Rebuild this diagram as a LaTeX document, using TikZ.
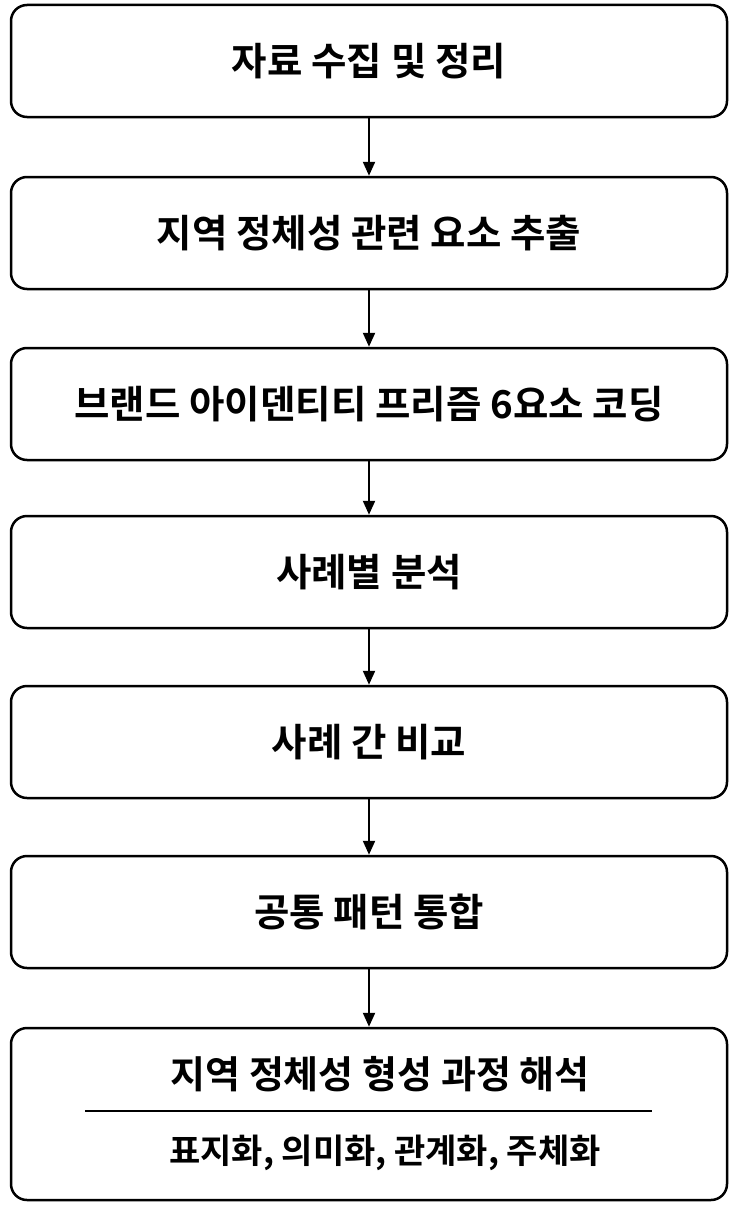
\documentclass[tikz,border=0pt]{standalone}
\usepackage{fontspec}
\setmainfont{Noto Sans CJK KR}[BoldFont={Noto Sans CJK KR Bold}]
\usetikzlibrary{arrows.meta}
\begin{document}
\begin{tikzpicture}[x=1pt,y=-1pt,
  box/.style={draw,line width=2.5pt,rounded corners=16pt,minimum width=716pt,inner sep=0pt,font=\bfseries\fontsize{38.5}{44}\selectfont},
  arr/.style={-{Triangle[length=14pt,width=12pt]},line width=2.2pt}]
\useasboundingbox (0,0) rectangle (738,1207);
\node[box,minimum height=112pt] (a) at (369,61) {자료 수집 및 정리};
\node[box,minimum height=112pt] (b) at (369,233) {지역 정체성 관련 요소 추출};
\node[box,minimum height=112pt] (c) at (369,404) {브랜드 아이덴티티 프리즘 6요소 코딩};
\node[box,minimum height=112pt] (d) at (369,572) {사례별 분석};
\node[box,minimum height=112pt] (e) at (369,742) {사례 간 비교};
\node[box,minimum height=112pt] (f) at (369,912) {공통 패턴 통합};
\node[box,minimum height=172pt] (g) at (369,1114) {};
\node[font=\bfseries\fontsize{38}{44}\selectfont] (g1) at (380,1074) {지역 정체성 형성 과정 해석};
\node[font=\bfseries\fontsize{34}{40}\selectfont] (g2) at (385,1153) {표지화, 의미화, 관계화, 주체화};
\coordinate (l1) at (85,1111); \coordinate (l2) at (652,1111);
\draw[line width=1.2pt] (l1) -- (l2);
\draw[arr] (a) -- (b);
\draw[arr] (b) -- (c);
\draw[arr] (c) -- (d);
\draw[arr] (d) -- (e);
\draw[arr] (e) -- (f);
\draw[arr] (f) -- (g);
\end{tikzpicture}
\end{document}
